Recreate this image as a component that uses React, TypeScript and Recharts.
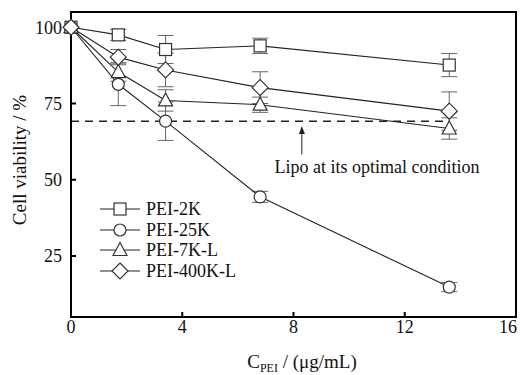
import React from "react";
import {
  ComposedChart,
  Line,
  XAxis,
  YAxis,
  ErrorBar,
  ReferenceLine,
  ReferenceDot,
  ReferenceArea,
} from "recharts";

const concentrations = [0, 1.7, 3.4, 6.8, 13.6];
const pei2k = [100, 97.5, 92.7, 93.9, 87.6];
const pei25k = [100, 81.3, 69.2, 44.4, 14.8];
const pei7kL = [100, 85.3, 76.0, 74.6, 66.8];
const pei400kL = [100, 90.2, 86.0, 80.2, 72.5];
const err2k = [0, 1.8, 4.6, 2.5, 3.8];
const err25k = [0, 7, 6.3, 1.8, 1.5];
const err7kL = [0, 3, 3.5, 2.5, 3.5];
const err400kL = [0, 2.5, 5.5, 5.2, 6.3];
const xTicks = [0, 4, 8, 12, 16];
const yTicks = [25, 50, 75, 100];
const lipoLevel = 69.2;

const data = concentrations.map((c, i) => ({
  c,
  s2k: pei2k[i],
  s25k: pei25k[i],
  s7k: pei7kL[i],
  s400k: pei400kL[i],
  e2k: err2k[i],
  e25k: err25k[i],
  e7k: err7kL[i],
  e400k: err400kL[i],
}));

const FONT = "'Liberation Serif', 'Times New Roman', serif";
const MARK = "#333";

type Shape = "square" | "circle" | "triangle" | "diamond";

const Marker = ({ shape, cx, cy }: { shape: Shape; cx: number; cy: number }) => {
  const common = { fill: "#fff", stroke: MARK, strokeWidth: 1.2 };
  if (shape === "square") return <rect x={cx - 6} y={cy - 6} width={12} height={12} {...common} />;
  if (shape === "circle") return <circle cx={cx} cy={cy} r={6} {...common} />;
  if (shape === "triangle")
    return <polygon points={`${cx},${cy - 7.5} ${cx - 7},${cy + 5.5} ${cx + 7},${cy + 5.5}`} {...common} />;
  return <polygon points={`${cx},${cy - 8} ${cx + 8},${cy} ${cx},${cy + 8} ${cx - 8},${cy}`} {...common} />;
};

const series: { key: string; err: string; name: string; shape: Shape }[] = [
  { key: "s2k", err: "e2k", name: "PEI-2K", shape: "square" },
  { key: "s25k", err: "e25k", name: "PEI-25K", shape: "circle" },
  { key: "s7k", err: "e7k", name: "PEI-7K-L", shape: "triangle" },
  { key: "s400k", err: "e400k", name: "PEI-400K-L", shape: "diamond" },
];

// legend drawn outside the chart so it doesn't eat plot space
const LegendBox = () => (
  <div
    style={{
      position: "absolute",
      left: 92,
      top: 191,
      fontFamily: FONT,
      fontSize: 18,
      color: "#111",
      lineHeight: "20px",
    }}
  >
    {series.map((s) => (
      <div key={s.key} style={{ display: "flex", alignItems: "center", height: 20.5 }}>
        <svg width={42} height={20}>
          <line x1={0} y1={10} x2={40} y2={10} stroke="#222" strokeWidth={1} />
          <Marker shape={s.shape} cx={20} cy={10} />
        </svg>
        <span style={{ marginLeft: 4 }}>{s.name}</span>
      </div>
    ))}
  </div>
);

const ArrowHead = (p: any) => (
  <polygon points={`${p.cx},${p.cy} ${p.cx - 3},${p.cy + 8} ${p.cx + 3},${p.cy + 8}`} fill="#222" />
);

// the last label is right-aligned to the frame so it stays inside the picture
const XTick = (p: any) => {
  const last = p.payload.value === xTicks[xTicks.length - 1];
  return (
    <text
      x={last ? p.x + 1 : p.x}
      y={p.y + 6}
      textAnchor={last ? "end" : "middle"}
      fill="#111"
      fontSize={18}
      fontFamily={FONT}
    >
      {p.payload.value}
    </text>
  );
};

export default function App() {
  return (
    <div style={{ position: "relative", width: 517, height: 367 }}>
      <style>{"html,body{overflow:hidden}"}</style>
      <ComposedChart
        width={517}
        height={367}
        data={data}
        margin={{ top: 4, right: 9, left: 23, bottom: 28 }}
        style={{ fontFamily: FONT }}
      >
        <XAxis
          dataKey="c"
          type="number"
          domain={[0, 16]}
          ticks={xTicks}
          interval={0}
          tickSize={-5}
          tickMargin={15}
          height={30}
          tick={<XTick />}
          tickLine={{ stroke: "#000", strokeWidth: 2 }}
          axisLine={{ stroke: "#000", strokeWidth: 2 }}
          label={{
            content: () => (
              <text x={294} y={360} textAnchor="middle" fill="#111" fontSize={19} fontFamily={FONT}>
                C
                <tspan fontSize={12} dy={4}>PEI</tspan>
                <tspan dy={-4}> / (μg/mL)</tspan>
              </text>
            ),
          }}
        />
        <YAxis
          type="number"
          domain={[5, 105]}
          ticks={yTicks}
          interval={0}
          width={40}
          tickSize={-5}
          tickMargin={14}
          tick={{ fill: "#111", fontSize: 18 }}
          tickLine={{ stroke: "#000", strokeWidth: 2 }}
          axisLine={{ stroke: "#000", strokeWidth: 2 }}
          label={{
            content: () => (
              <text
                x={0}
                y={0}
                transform="translate(18,152) rotate(-90)"
                textAnchor="middle"
                fill="#111"
                fontSize={19}
                fontFamily={FONT}
              >
                Cell viability / %
              </text>
            ),
          }}
        />
        <ReferenceArea
          x1={0}
          x2={16}
          y1={5}
          y2={105}
          fill="none"
          fillOpacity={0}
          stroke="#000"
          strokeWidth={2}
          ifOverflow="visible"
        />
        <ReferenceLine
          segment={[
            { x: 0, y: lipoLevel },
            { x: 13.6, y: lipoLevel },
          ]}
          stroke="#222"
          strokeWidth={1.5}
          strokeDasharray="8 6"
          ifOverflow="visible"
        />
        <ReferenceLine
          segment={[
            { x: 8.3, y: 58.3 },
            { x: 8.3, y: 66 },
          ]}
          stroke="#222"
          strokeWidth={1}
        />
        <ReferenceDot x={8.3} y={67.6} r={4} shape={ArrowHead} />
        <ReferenceDot
          x={11}
          y={54.2}
          r={0}
          fill="none"
          stroke="none"
          label={{ value: "Lipo at its optimal condition", position: "center", fill: "#111", fontSize: 18, fontFamily: FONT }}
        />
        {series.map((s) => (
          <Line
            key={s.key}
            dataKey={s.key}
            name={s.name}
            stroke="#222"
            strokeWidth={1.1}
            isAnimationActive={false}
            dot={(p: any) => <Marker key={`${s.key}-${p.index}`} shape={s.shape} cx={p.cx} cy={p.cy} />}
            activeDot={false}
          >
            <ErrorBar dataKey={s.err} width={8} stroke="#666" strokeWidth={1} direction="y" />
          </Line>
        ))}
      </ComposedChart>
      <LegendBox />
    </div>
  );
}
